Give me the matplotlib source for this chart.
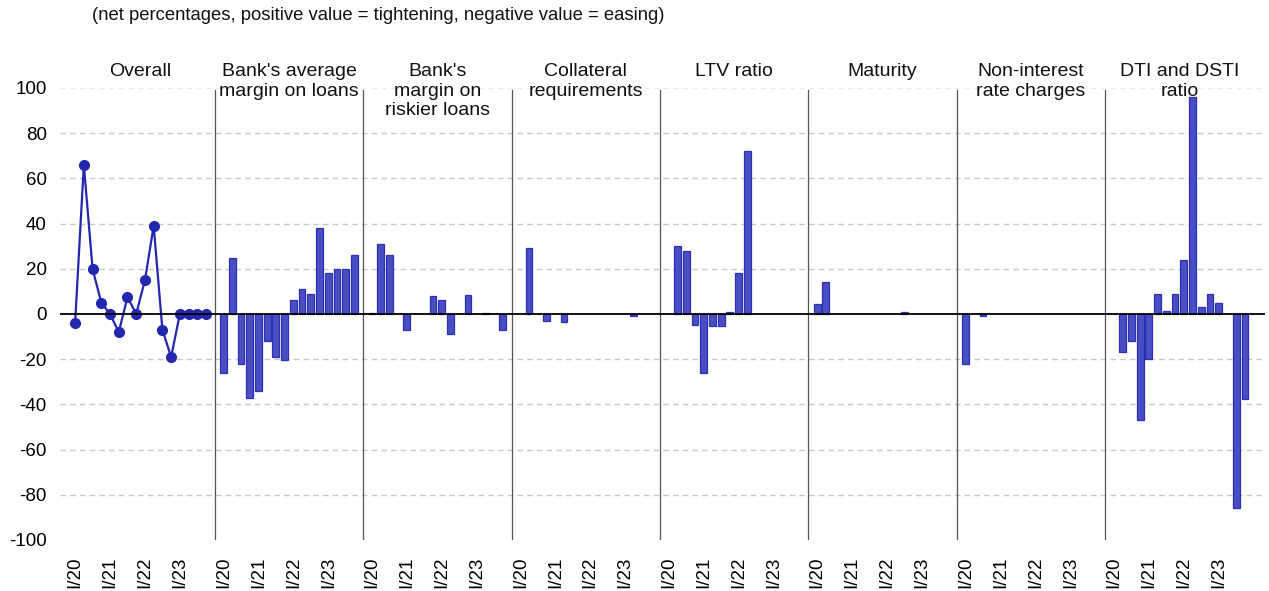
import numpy as np
import matplotlib
matplotlib.use("Agg")
import matplotlib.pyplot as plt
import matplotlib.transforms as mtransforms

plt.rcParams['font.family'] = ['Liberation Sans', 'DejaVu Sans']
plt.rcParams['axes.unicode_minus'] = False

# ---- data ----
quarters = ["I/20", "II/20", "III/20", "IV/20", "I/21", "II/21", "III/21", "IV/21",
            "I/22", "II/22", "III/22", "IV/22", "I/23", "II/23", "III/23", "IV/23"]
tick_labels = ["I/20", "I/21", "I/22", "I/23"]
panel_titles = ["Overall", "Bank's average\nmargin on loans", "Bank's\nmargin on\nriskier loans",
                "Collateral\nrequirements", "LTV ratio", "Maturity",
                "Non-interest\nrate charges", "DTI and DSTI\nratio"]

overall = [-4, 66, 20, 5, 0, -8, 7.5, 0, 15, 39, -7, -19, 0, 0, 0, 0]
avg_margin = [-26, 25, -22, -37, -34, -12, -19, -20.5, 6, 11, 9, 38, 18, 20, 20, 26]
riskier_margin = [0.3, 31, 26, 0, -7, 0, 0, 8, 6, -9, 0, 8.5, 0, 0.5, 0, -7]
collateral = [0, 29, 0, -3, 0, -3.5, 0, 0, 0, 0, 0, 0, 0, -1, 0, 0]
ltv = [0, 30, 28, -5, -26, -5.5, -5.5, 0.7, 18, 72, 0, 0, 0, 0, 0, 0]
maturity = [4.5, 14, 0, 0, 0, 0, 0, 0, 0, 0, 1, 0, 0, 0, 0, 0]
non_interest = [-22, 0, -0.8, 0, 0, 0, 0, 0, 0, 0, 0, 0, 0, 0, 0, 0]
dti_dsti = [0, -17, -12, -47, -20, 9, 1.5, 9, 24, 96, 3, 9, 5, 0, -86, -37.5]

bar_series = [avg_margin, riskier_margin, collateral, ltv, maturity, non_interest, dti_dsti]

# ---- style ----
bar_face = "#4a4ec4"
bar_edge = "#2b2fb3"
line_col = "#2327b0"

W, H = 1269, 591
fig = plt.figure(figsize=(W / 100, H / 100), dpi=100)
ax = fig.add_axes([60 / W, 1 - 540 / H, (1265 - 60) / W, (540 - 88) / H])

n = len(quarters)
slot = n + 1
pos = np.arange(1, n + 1)

# overall line
ax.plot(pos, overall, color=line_col, lw=1.6, marker='o', ms=7, zorder=4)

# bar panels
for k, series in enumerate(bar_series, start=1):
    x = pos + slot * k
    vals = np.array(series, dtype=float)
    mask = vals != 0
    ax.bar(x[mask], vals[mask], width=0.78, color=bar_face, edgecolor=bar_edge,
           linewidth=0.9, zorder=3)

# separators
for k in range(1, 8):
    ax.plot([slot * k, slot * k], [-100, 99], color="#555555", lw=0.9, zorder=2)

# zero line
ax.axhline(0, color="black", lw=1.3, zorder=5)

# gridlines
for yv in [-80, -60, -40, -20, 20, 40, 60, 80]:
    ax.axhline(yv, color="#c8c8c8", lw=1.0, ls=(0, (4, 3)), zorder=1)
ax.axhline(100, color="#ececec", lw=1.0, ls=(0, (4, 3)), zorder=1)

ax.set_ylim(-100, 100)
ax.set_xlim(-0.73, 137.3)
ax.set_yticks(np.arange(-100, 101, 20))
ax.tick_params(axis='y', length=0, pad=9.5, labelsize=13.5)

xt = []
xl = []
for k in range(8):
    for j, lab in zip([1, 5, 9, 13], tick_labels):
        xt.append(slot * k + j)
        xl.append(lab)
ax.set_xticks(xt)
ax.set_xticklabels(xl, rotation=90, fontsize=13.5, va='top')
ax.tick_params(axis='x', length=0, pad=12)

for s in ax.spines.values():
    s.set_visible(False)

# panel titles
trans = mtransforms.blended_transform_factory(ax.transData, fig.transFigure)
for k, t in enumerate(panel_titles):
    ax.text(slot * k + slot / 2, 1 - 63 / H, t, transform=trans, ha='center', va='top',
            fontsize=14, linespacing=1.2, color="#111111", zorder=6)

fig.text(92 / W, 1 - 16 / H,
         "(net percentages, positive value = tightening, negative value = easing)",
         ha='left', va='center', fontsize=13.3, color="#111111")

fig.savefig("out.png", dpi=100)
